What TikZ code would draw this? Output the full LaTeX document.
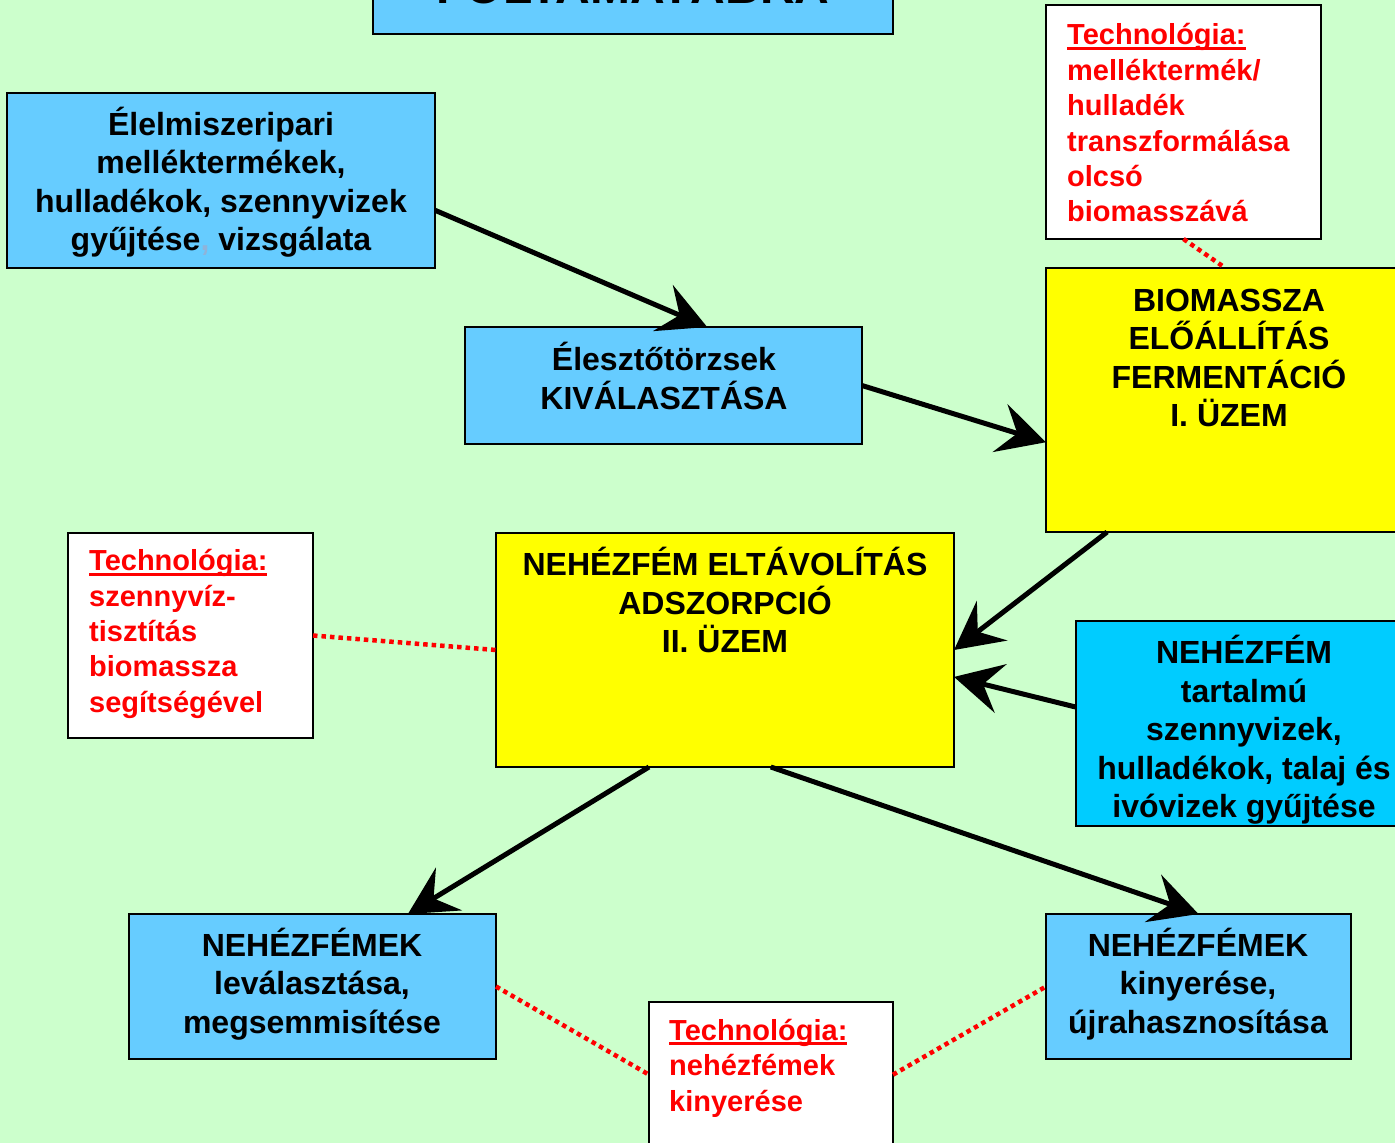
\documentclass[tikz,border=0pt]{standalone}
\usepackage{fontspec}
\setmainfont{Liberation Sans}
\usetikzlibrary{arrows.meta,calc}
\definecolor{bgc}{HTML}{CCFFCC}
\definecolor{lblue}{HTML}{66CCFF}
\definecolor{cyanb}{HTML}{00CCFF}
\definecolor{yel}{HTML}{FFFF00}
\definecolor{redt}{HTML}{FF0000}
\definecolor{commac}{HTML}{8FB3D9}
\newcommand\techul[1]{\setbox0\hbox{#1}\rlap{\rule[-5pt]{\wd0}{3pt}}#1}
\tikzset{
  box/.style={draw=black, line width=2pt, inner sep=0pt, outer sep=0pt},
  maintxt/.style={align=center, inner sep=0pt, font=\bfseries\fontsize{32}{38.5}\selectfont},
  redtxt/.style={align=left, inner sep=0pt, text=redt, font=\bfseries\fontsize{29}{35.4}\selectfont},
  arr/.style={line width=5pt, -{Stealth[length=48pt,width=50pt,inset=18pt]}},
  dotline/.style={draw=redt, line width=4.5pt, dash pattern=on 4.5pt off 4pt}
}
\begin{document}
\begin{tikzpicture}[x=1pt,y=-1pt]
\useasboundingbox (0,0) rectangle (1395,1143);
\clip (0,0) rectangle (1395,1143);
\fill[bgc] (0,0) rectangle (1395,1143);
% boxes
\node[box, fill=lblue, minimum width=520pt, minimum height=54pt] (title) at (633,7) {};
\node[box, fill=lblue, minimum width=428pt, minimum height=175pt] (box1) at (221,180.5) {};
\node[box, fill=lblue, minimum width=397pt, minimum height=117pt] (box2) at (663.5,385.5) {};
\node[box, fill=white, minimum width=275pt, minimum height=234pt] (tech1) at (1183.5,122) {};
\node[box, fill=yel, minimum width=366pt, minimum height=264pt] (yel1) at (1229,400) {};
\node[box, fill=yel, minimum width=458pt, minimum height=234pt] (yel2) at (725,650) {};
\node[box, fill=white, minimum width=245pt, minimum height=205pt] (tech2) at (190.5,635.5) {};
\node[box, fill=cyanb, minimum width=336pt, minimum height=205pt] (cyanbox) at (1244,723.5) {};
\node[box, fill=lblue, minimum width=367pt, minimum height=145pt] (bl) at (312.5,986.5) {};
\node[box, fill=lblue, minimum width=305pt, minimum height=145pt] (br) at (1198.5,986.5) {};
\node[box, fill=white, minimum width=244pt, minimum height=158pt] (tech3) at (771,1081) {};
% texts
\node[inner sep=0pt, anchor=base, font=\bfseries\fontsize{48}{56}\selectfont] (titletxt) at (633,4) {FOLYAMATÁBRA};
\node[maintxt] (t1) at (221,182) {Élelmiszeripari\\melléktermékek,\\hulladékok, szennyvizek\\gyűjtése{\color{commac},} vizsgálata};
\node[maintxt] (t2) at (664,376) {Élesztőtörzsek\\KIVÁLASZTÁSA};
\node[maintxt] (t3) at (1229,358) {BIOMASSZA\\ELŐÁLLÍTÁS\\FERMENTÁCIÓ\\I. ÜZEM};
\node[maintxt] (t4) at (725,600) {NEHÉZFÉM ELTÁVOLÍTÁS\\ADSZORPCIÓ\\II. ÜZEM};
\node[maintxt] (t5) at (1244,730) {NEHÉZFÉM\\tartalmú\\szennyvizek,\\hulladékok, talaj és\\ivóvizek gyűjtése};
\node[maintxt] (t6) at (312,984) {NEHÉZFÉMEK\\leválasztása,\\megsemmisítése};
\node[maintxt] (t7) at (1198,984) {NEHÉZFÉMEK\\kinyerése,\\újrahasznosítása};
\node[redtxt, anchor=west] (r1) at (1067,123) {\techul{Technológia:}\\melléktermék/\\hulladék\\transzformálása\\olcsó\\biomasszává};
\node[redtxt, anchor=west] (r2) at (89,634) {\techul{Technológia:}\\szennyvíz-\\tisztítás\\biomassza\\segítségével};
\node[redtxt, anchor=west] (r3) at (669,1068) {\techul{Technológia:}\\nehézfémek\\kinyerése};
% arrows
\draw[arr] ($(box1.north east)!0.67!(box1.south east)$) -- ($(box2.north west)!0.61!(box2.north east)$);
\draw[arr] (box2.east) -- ($(yel1.north west)!0.66!(yel1.south west)$);
\draw[arr] ($(yel1.south west)!0.167!(yel1.south east)$) -- (yel2.east);
\draw[arr] ($(cyanbox.north west)!0.42!(cyanbox.south west)$) -- ($(yel2.north east)!0.615!(yel2.south east)$);
\draw[arr] ($(yel2.south west)!0.334!(yel2.south east)$) -- ($(bl.north west)!0.76!(bl.north east)$);
\draw[arr] ($(yel2.south west)!0.60!(yel2.south east)$) -- (br.north);
% dotted links
\draw[dotline] (tech1.south) -- ($(yel1.north west)!0.49!(yel1.north east)$);
\draw[dotline] (tech2.east) -- (yel2.west);
\draw[dotline] (bl.east) -- ($(tech3.north west)!0.46!(tech3.south west)$);
\draw[dotline] ($(tech3.north east)!0.46!(tech3.south east)$) -- (br.west);
\end{tikzpicture}
\end{document}
